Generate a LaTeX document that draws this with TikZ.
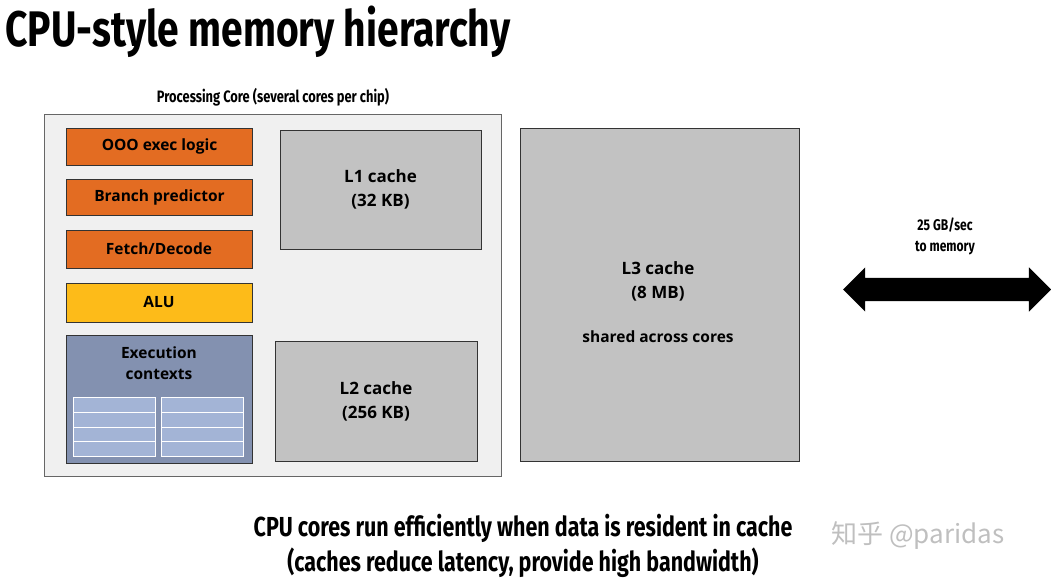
\documentclass[tikz,border=0pt]{standalone}
\usepackage{fontspec}
\setmainfont{Open Sans}
\newfontfamily\cond[FakeStretch=0.78]{Fira Sans}
\newfontfamily\cjk{Noto Sans CJK SC}
\usetikzlibrary{shapes.arrows}
\definecolor{orng}{HTML}{E36C22}
\definecolor{alu}{HTML}{FDBB19}
\definecolor{ctx}{HTML}{8391B0}
\definecolor{reg}{HTML}{A3B4D6}
\definecolor{cache}{HTML}{C2C2C2}
\tikzset{
 blk/.style={draw=black!80,line width=0.8pt,font=\bfseries\fontsize{15.5}{19}\selectfont,align=center},
 cach/.style={blk,fill=cache,font=\bfseries\fontsize{17}{24}\selectfont},
}
\begin{document}
\begin{tikzpicture}[x=1pt,y=-1pt]
\useasboundingbox (0,0) rectangle (1051,582);
\node[anchor=west,font=\cond\bfseries\fontsize{50}{52}\selectfont] (title) at (2,32) {CPU-style memory hierarchy};
\node[font=\cond\bfseries\fontsize{16.5}{18}\selectfont] (pclab) at (273,97) {Processing Core (several cores per chip)};
\draw[fill=black!6,draw=black!60] (44,114) rectangle (501,476);
\node[blk,fill=orng,minimum width=186pt,minimum height=37pt] (ooo) at (159.5,146.5) {OOO exec logic};
\node[blk,fill=orng,minimum width=186pt,minimum height=36pt] (bp) at (159.5,197) {Branch predictor};
\node[blk,fill=orng,minimum width=186pt,minimum height=38pt] (fd) at (159,249) {Fetch/Decode};
\node[blk,fill=alu,minimum width=186pt,minimum height=39pt] (alu) at (159,302.5) {ALU};
\node[blk,fill=ctx,minimum width=186pt,minimum height=128pt,anchor=north] (ec) at (159,335) {};
\node[font=\bfseries\fontsize{15.5}{21}\selectfont,align=center] (ectxt) at (159,363) {Execution\\contexts};
\foreach \x in {73,161}{
  \fill[reg] (\x,397) rectangle ++(82,59);
  \foreach \y in {397,412,427,441,456} \draw[white,line width=0.8pt] (\x,\y) -- ++(82,0);
  \draw[white,line width=0.8pt] (\x,397) rectangle ++(82,59);
}
\node[cach,minimum width=201pt,minimum height=119pt] (l1) at (380.5,189.5) {L1 cache\\(32 KB)};
\node[cach,minimum width=202pt,minimum height=120pt] (l2) at (376,401) {L2 cache\\(256 KB)};
\node[cach,minimum width=279pt,minimum height=333pt] (l3) at (659.5,294.5) {};
\node[font=\bfseries\fontsize{17}{24}\selectfont,align=center] (l3t) at (658,281) {L3 cache\\(8 MB)};
\node[font=\bfseries\fontsize{15.5}{19}\selectfont] (l3s) at (658,337) {shared across cores};
\node[font=\cond\bfseries\fontsize{15.5}{21}\selectfont,align=center] (bw) at (945,236) {25 GB/sec\\to memory};
\node[double arrow,fill=black,minimum height=208pt,inner sep=0pt,inner ysep=11.5pt,double arrow head extend=10.5pt,double arrow tip angle=90] (arr) at (947,289.5) {};
\node[font=\cond\bfseries\fontsize{27.5}{35}\selectfont,align=center] (foot) at (523,546) {CPU cores run efficiently when data is resident in cache\\(caches reduce latency, provide high bandwidth)};
\node[text=black!25,font=\cjk\fontsize{26}{28}\selectfont] (wm) at (918,536) {知乎 @paridas};
\end{tikzpicture}
\end{document}
